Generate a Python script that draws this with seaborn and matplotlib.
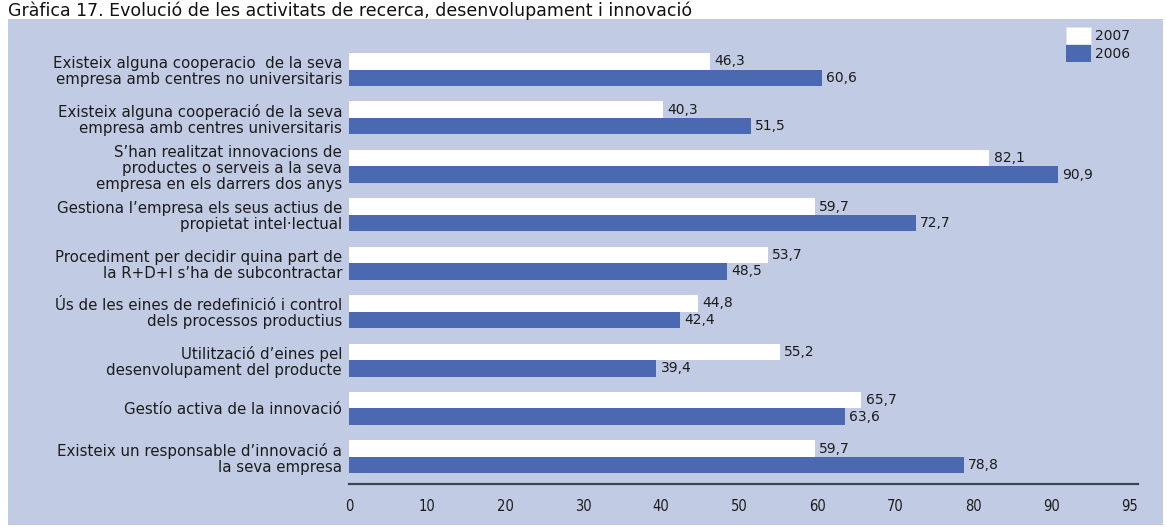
import matplotlib
matplotlib.use("Agg")
import matplotlib.pyplot as plt
from matplotlib.patches import Rectangle, Patch
import seaborn as sns
import pandas as pd

# Gràfica 17 - activitats de R+D+I, 2007 vs 2006 (%)
items = [
    "Existeix alguna cooperacio  de la seva\nempresa amb centres no universitaris",
    "Existeix alguna cooperació de la seva\nempresa amb centres universitaris",
    "S’han realitzat innovacions de\nproductes o serveis a la seva\nempresa en els darrers dos anys",
    "Gestiona l’empresa els seus actius de\npropietat intel·lectual",
    "Procediment per decidir quina part de\nla R+D+I s’ha de subcontractar",
    "Ús de les eines de redefinició i control\ndels processos productius",
    "Utilització d’eines pel\ndesenvolupament del producte",
    "Gestío activa de la innovació",
    "Existeix un responsable d’innovació a\nla seva empresa",
]
vals_2007 = [46.3, 40.3, 82.1, 59.7, 53.7, 44.8, 55.2, 65.7, 59.7]
vals_2006 = [60.6, 51.5, 90.9, 72.7, 48.5, 42.4, 39.4, 63.6, 78.8]
years = ["2007", "2006"]
xticks = [0, 10, 20, 30, 40, 50, 60, 70, 80, 90, 100]
xtick_labels = ["0", "10", "20", "30", "40", "50", "60", "70", "80", "90", "95"]

df = pd.DataFrame({
    "item": items * 2,
    "value": vals_2007 + vals_2006,
    "year": ["2007"] * len(items) + ["2006"] * len(items),
})

sns.set_style("white")
plt.rcParams["font.family"] = ["DejaVu Sans"]

panel = "#C1CBE3"
blue = "#4B69B1"
txt = "#1c1c1c"

W, H = 1167, 527
fig = plt.figure(figsize=(W / 100, H / 100), dpi=100)
fig.patch.set_facecolor("white")
fig.patches.append(Rectangle((8 / W, 1 - 525 / H), (1163 - 8) / W, (525 - 19) / H,
                             transform=fig.transFigure, facecolor=panel,
                             edgecolor="none", zorder=-5))

fig.text(8 / W, 1 - 1 / H,
         "Gràfica 17. Evolució de les activitats de recerca, desenvolupament i innovació",
         fontsize=12.5, color="#111111", va="top", ha="left")

ax = fig.add_axes([349 / W, 1 - 484 / H, (1138 - 349) / W, (484 - 30) / H])
ax.set_facecolor("none")

sns.barplot(data=df, y="item", x="value", hue="year", hue_order=years,
            palette={"2007": "white", "2006": blue}, saturation=1,
            orient="h", width=0.68, legend=False, ax=ax, errorbar=None,
            linewidth=0)

for cont in ax.containers:
    ax.bar_label(cont, labels=[f"{v:.1f}".replace(".", ",") for v in cont.datavalues],
                 padding=3, fontsize=10, color=txt)

ax.set_xlim(0, (1138 - 349) / 7.8)
ax.set_ylim(8.56, -0.816)
ax.set_xticks(xticks)
ax.set_xticklabels(xtick_labels, fontsize=10.5, color=txt, stretch="condensed")
ax.set_yticks(range(len(items)))
ax.set_yticklabels(items, fontsize=10.8, color=txt, linespacing=1.1)
ax.tick_params(axis="x", length=0, pad=11)
ax.tick_params(axis="y", length=0, pad=5)
ax.set_xlabel("")
ax.set_ylabel("")

for s in ["top", "right", "left"]:
    ax.spines[s].set_visible(False)
ax.spines["bottom"].set_color("#3f4350")
ax.spines["bottom"].set_linewidth(1.6)

handles = [Patch(facecolor="white", edgecolor="#dde2f0", linewidth=0.6, label="2007"),
           Patch(facecolor=blue, edgecolor="none", label="2006")]
fig.legend(handles=handles, loc="upper left",
           bbox_to_anchor=(1066 / W, 1 - 27 / H), bbox_transform=fig.transFigure,
           frameon=False, fontsize=10, handlelength=1.8, handleheight=1.55,
           handletextpad=0.3, labelspacing=0.05, borderpad=0, borderaxespad=0,
           labelcolor=txt)

fig.savefig("out.png", dpi=100)
